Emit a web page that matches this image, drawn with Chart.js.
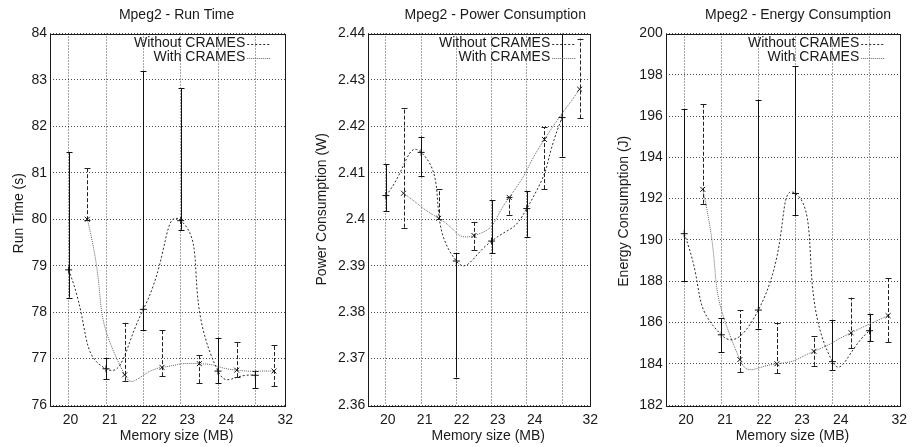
<!DOCTYPE html>
<html>
<head>
<meta charset="utf-8">
<script src="https://cdn.jsdelivr.net/npm/chart.js@4/dist/chart.umd.min.js"></script>
<style>
body { margin: 0; background: #fff; }
.panel { position: absolute; top: 0; height: 447px; }
</style>
</head>
<body>
<div class="panel" style="left:0;width:300px"><canvas id="chart-run"></canvas></div>
<div class="panel" style="left:300px;width:305px"><canvas id="chart-power"></canvas></div>
<div class="panel" style="left:605px;width:309px"><canvas id="chart-energy"></canvas></div>
<script>
// x slots: the two runs are interleaved, "without" on the grid lines, "with" between them
var slotsWithout = [0, 2, 4, 6, 8, 10];
var slotsWith = [1, 3, 5, 7, 9, 11];
var gridSlots = [0, 2, 4, 6, 8, 10];
var memTickPos = [0.1, 2.2, 4.3, 6.35, 8.45, 11.6];
var memTickText = ['20', '21', '22', '23', '24', '32'];

// Run time (s)
var runWithout = [78.91, 76.78, 78.06, 79.97, 76.73, 76.64];
var runWithoutLow = [78.31, 76.56, 77.61, 79.77, 76.47, 76.37];
var runWithoutHigh = [81.44, 77.02, 83.19, 82.82, 77.45, 76.74];
var runWith = [80.0, 76.65, 76.81, 76.89, 76.75, 76.73];
var runWithLow = [79.98, 76.52, 76.62, 76.47, 76.6, 76.41];
var runWithHigh = [81.11, 77.77, 77.62, 77.07, 77.36, 77.29];

// Power consumption (W)
var powWithout = [2.4051, 2.4144, 2.391, 2.3953, 2.4023, 2.4219];
var powWithoutLow = [2.4018, 2.4093, 2.3659, 2.3927, 2.3962, 2.4135];
var powWithoutHigh = [2.4119, 2.4178, 2.3927, 2.4041, 2.4061, 2.4398];
var powWith = [2.4056, 2.4002, 2.3965, 2.4047, 2.4172, 2.428];
var powWithLow = [2.3982, 2.40, 2.3934, 2.4010, 2.4065, 2.4217];
var powWithHigh = [2.4239, 2.4065, 2.3995, 2.4048, 2.4199, 2.4389];

// Energy consumption (J)
var enWithout = [190.3, 185.4, 186.6, 192.25, 184.1, 185.6];
var enWithoutLow = [188.0, 184.55, 185.7, 191.2, 183.7, 185.08];
var enWithoutHigh = [196.35, 186.2, 196.8, 198.42, 186.12, 186.42];
var enWith = [192.45, 184.2, 184.0, 184.6, 185.5, 186.33];
var enWithLow = [191.75, 183.6, 183.55, 183.9, 184.74, 185.05];
var enWithHigh = [196.58, 186.6, 185.95, 185.32, 187.2, 188.15];

var FONT = '"Liberation Sans", Arial, sans-serif';
var INK = '#1a1a1a';

function pairs(xs, ys) {
    return xs.map(function (x, i) { return { x: x, y: ys[i] }; });
}

// error bars, frame, key and titles, gnuplot style
var gnuplotLook = {
    id: 'gnuplotLook',
    beforeDatasetsDraw: function (chart) {
        var ctx = chart.ctx, xs = chart.scales.x, ys = chart.scales.y;
        ctx.save();
        ctx.lineWidth = 1;
        chart.data.datasets.forEach(function (ds) {
            ctx.strokeStyle = ds.errColor;
            ds.data.forEach(function (p, i) {
                var x = Math.round(xs.getPixelForValue(p.x)) + 0.5;
                var y0 = ys.getPixelForValue(ds.errLow[i]);
                var y1 = ys.getPixelForValue(ds.errHigh[i]);
                ctx.setLineDash(ds.errDash);
                ctx.beginPath();
                ctx.moveTo(x, y0);
                ctx.lineTo(x, y1);
                ctx.stroke();
                ctx.setLineDash([]);
                ctx.beginPath();
                ctx.moveTo(x - 3, Math.round(y0) + 0.5);
                ctx.lineTo(x + 3, Math.round(y0) + 0.5);
                ctx.moveTo(x - 3, Math.round(y1) + 0.5);
                ctx.lineTo(x + 3, Math.round(y1) + 0.5);
                ctx.stroke();
            });
        });
        ctx.restore();
    },
    afterDraw: function (chart, args, opts) {
        var ctx = chart.ctx, a = chart.chartArea;
        ctx.save();
        // frame
        ctx.strokeStyle = INK;
        ctx.lineWidth = 1;
        ctx.strokeRect(Math.round(a.left) + 0.5, Math.round(a.top) + 0.5,
            Math.round(a.right - a.left), Math.round(a.bottom - a.top));

        // key
        ctx.font = '14px ' + FONT;
        ctx.fillStyle = INK;
        ctx.textAlign = 'right';
        ctx.textBaseline = 'middle';
        chart.data.datasets.forEach(function (ds, i) {
            var y = a.top + 10 + i * 14;
            ctx.fillText(ds.label, a.right - 40, y);
            ctx.strokeStyle = ds.borderColor;
            ctx.setLineDash(ds.borderDash);
            ctx.beginPath();
            ctx.moveTo(a.right - 38, Math.round(y) + 0.5);
            ctx.lineTo(a.right - 15, Math.round(y) + 0.5);
            ctx.stroke();
        });
        ctx.setLineDash([]);

        // titles
        var cx = (a.left + a.right) / 2;
        ctx.textAlign = 'center';
        ctx.fillText(opts.title, cx + opts.titleShift, 15);
        ctx.fillText('Memory size (MB)', cx + opts.xTitleShift, 436);
        ctx.translate(opts.yTitleX, (a.top + a.bottom) / 2 + opts.yTitleShift);
        ctx.rotate(-Math.PI / 2);
        ctx.fillText(opts.yTitle, 0, 0);
        ctx.restore();
    }
};

function makeChart(id, p) {
    var gridLine = 'rgba(0,0,0,0.7)';
    return new Chart(document.getElementById(id), {
        type: 'line',
        data: {
            datasets: [{
                label: 'Without CRAMES',
                data: pairs(slotsWithout, p.without),
                errLow: p.withoutLow,
                errHigh: p.withoutHigh,
                errDash: [],
                errColor: '#111',
                borderColor: '#2a2a2a',
                borderDash: [2, 2],
                borderWidth: 1,
                tension: 0.6,
                pointStyle: 'cross',
                pointRadius: 3.5,
                pointBorderColor: '#111',
                pointBorderWidth: 1
            },
            {
                label: 'With CRAMES',
                data: pairs(slotsWith, p.withs),
                errLow: p.withLow,
                errHigh: p.withHigh,
                errDash: [4, 2],
                errColor: '#222',
                borderColor: '#666',
                borderDash: [1, 1],
                borderWidth: 1,
                tension: 0.6,
                pointStyle: 'crossRot',
                pointRadius: 3.5,
                pointBorderColor: '#111',
                pointBorderWidth: 1
            }]
        },
        options: {
            responsive: true,
            maintainAspectRatio: false,
            animation: false,
            layout: { padding: { left: 0, top: 33.5, right: p.right, bottom: 0 } },
            plugins: {
                legend: { display: false },
                tooltip: { enabled: false },
                gnuplotLook: {
                    title: p.title,
                    titleShift: p.titleShift,
                    xTitleShift: p.xTitleShift,
                    yTitle: p.yTitle,
                    yTitleX: p.yTitleX,
                    yTitleShift: p.yTitleShift
                }
            },
            scales: {
                x: {
                    type: 'linear',
                    min: -1,
                    max: 11.6,
                    afterBuildTicks: function (s) {
                        s.ticks = gridSlots.map(function (v) { return { value: v }; });
                    },
                    afterFit: function (s) { s.height = 0; },
                    ticks: { display: false },
                    grid: { color: gridLine, drawTicks: false },
                    border: { display: false, dash: [1, 2] }
                },
                xl: {
                    type: 'linear',
                    position: 'bottom',
                    min: -1,
                    max: 11.6,
                    afterBuildTicks: function (s) {
                        s.ticks = memTickPos.map(function (v) { return { value: v }; });
                    },
                    afterFit: function (s) { s.height = 42; },
                    ticks: {
                        autoSkip: false,
                        maxRotation: 0,
                        padding: 7,
                        color: INK,
                        font: { family: FONT, size: 14 },
                        callback: function (v, i) { return memTickText[i]; }
                    },
                    grid: { display: false, drawTicks: false },
                    border: { display: false }
                },
                y: {
                    min: p.min,
                    max: p.max,
                    afterFit: function (s) { s.width = p.left; },
                    ticks: {
                        stepSize: p.step,
                        padding: 3,
                        color: INK,
                        font: { family: FONT, size: 14 },
                        callback: function (v) { return String(+v.toFixed(2)); }
                    },
                    grid: { color: gridLine, drawTicks: false },
                    border: { display: false, dash: [1, 2] }
                }
            }
        },
        plugins: [gnuplotLook]
    });
}

makeChart('chart-run', {
    title: 'Mpeg2 - Run Time', yTitle: 'Run Time (s)',
    without: runWithout, withoutLow: runWithoutLow, withoutHigh: runWithoutHigh,
    withs: runWith, withLow: runWithLow, withHigh: runWithHigh,
    min: 76, max: 84, step: 1,
    left: 50, right: 8, titleShift: 9, xTitleShift: 9, yTitleX: 19, yTitleShift: -6
});

makeChart('chart-power', {
    title: 'Mpeg2 - Power Consumption', yTitle: 'Power Consumption (W)',
    without: powWithout, withoutLow: powWithoutLow, withoutHigh: powWithoutHigh,
    withs: powWith, withLow: powWithLow, withHigh: powWithHigh,
    min: 2.36, max: 2.44, step: 0.01,
    left: 68.3, right: 10.7, titleShift: 16, xTitleShift: 9, yTitleX: 21.7, yTitleShift: -10
});

makeChart('chart-energy', {
    title: 'Mpeg2 - Energy Consumption', yTitle: 'Energy Consumption (J)',
    without: enWithout, withoutLow: enWithoutLow, withoutHigh: enWithoutHigh,
    withs: enWith, withLow: enWithLow, withHigh: enWithHigh,
    min: 182, max: 200, step: 2,
    left: 60.7, right: 14.7, titleShift: 15.5, xTitleShift: 10, yTitleX: 19, yTitleShift: -8
});
</script>
</body>
</html>
